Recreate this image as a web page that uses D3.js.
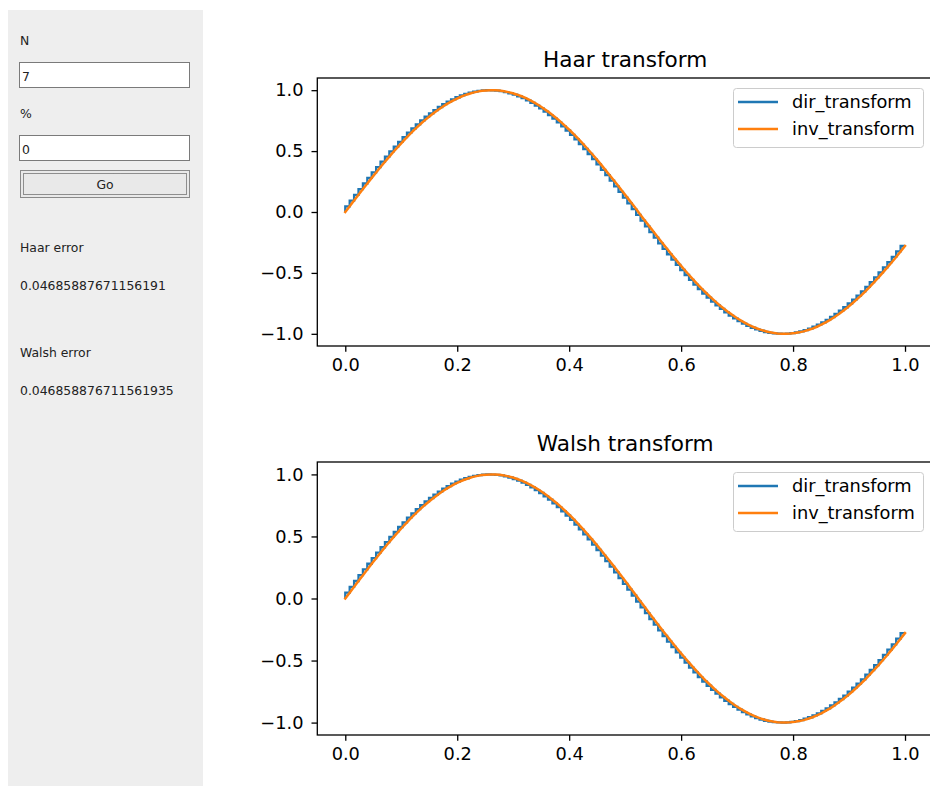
<!DOCTYPE html>
<html>
<head>
<meta charset="utf-8">
<script src="https://cdnjs.cloudflare.com/ajax/libs/d3/7.8.5/d3.min.js"></script>
<style>
  body { margin: 0; background: #fff; }
  svg { display: block; }
</style>
</head>
<body>
<div id="chart"></div>
<script>
// samples of the signal, 128 points on [0, 1]
var sampleValues = [
  0.000, 0.047, 0.094, 0.141, 0.188, 0.234, 0.280, 0.325, 0.369, 0.413, 0.455, 0.497, 0.537, 0.576, 0.614, 0.651,
  0.686, 0.720, 0.752, 0.782, 0.810, 0.837, 0.862, 0.885, 0.906, 0.925, 0.942, 0.957, 0.969, 0.980, 0.988, 0.995,
  0.998, 1.000, 0.999, 0.997, 0.992, 0.984, 0.975, 0.963, 0.950, 0.934, 0.916, 0.896, 0.874, 0.850, 0.824, 0.796,
  0.767, 0.736, 0.703, 0.669, 0.633, 0.596, 0.557, 0.517, 0.476, 0.434, 0.391, 0.346, 0.302, 0.257, 0.211, 0.165,
  0.118, 0.071, 0.024, -0.024, -0.071, -0.118, -0.165, -0.211, -0.257, -0.302, -0.347, -0.391, -0.434, -0.476, -0.517, -0.557,
  -0.596, -0.633, -0.669, -0.703, -0.736, -0.767, -0.796, -0.824, -0.850, -0.874, -0.896, -0.916, -0.934, -0.950, -0.964, -0.975,
  -0.985, -0.992, -0.997, -0.999, -1.000, -0.998, -0.994, -0.988, -0.980, -0.969, -0.957, -0.942, -0.925, -0.906, -0.885, -0.862,
  -0.837, -0.810, -0.782, -0.751, -0.719, -0.686, -0.651, -0.614, -0.576, -0.537, -0.496, -0.455, -0.412, -0.369, -0.324, -0.279
];
var seriesNames = ["dir_transform", "inv_transform"];
var seriesColors = ["#1f77b4", "#ff7f0e"];
var plotTitles = ["Haar transform", "Walsh transform"];
var xTicks = [0, 0.2, 0.4, 0.6, 0.8, 1.0];
var yTicks = [-1.0, -0.5, 0.0, 0.5, 1.0];

// left form panel
var fieldLabels = ["N", "%"];
var fieldValues = ["7", "0"];
var buttonLabel = "Go";
var errorLabels = ["Haar error", "Walsh error"];
var errorValues = ["0.04685887671156191", "0.046858876711561935"];

var width = 930, height = 786;
var xData = sampleValues.map(function(d, i) { return i / (sampleValues.length - 1); });
var points = sampleValues.map(function(d, i) { return [xData[i], d]; });

var svg = d3.select("#chart").append("svg")
    .attr("width", width)
    .attr("height", height);

// ---- panel ----
var panel = svg.append("g").attr("font-family", "DejaVu Sans").attr("font-size", "12.4px").attr("fill", "#222");
panel.append("rect").attr("x", 8).attr("y", 10).attr("width", 195).attr("height", height - 10).attr("fill", "#eeeeee");

var fieldTop = [62, 135];
fieldLabels.forEach(function(lbl, i) {
  panel.append("text").attr("x", 20).attr("y", fieldTop[i] - 17).text(lbl);
  panel.append("rect")
      .attr("x", 19.5).attr("y", fieldTop[i] + 0.5)
      .attr("width", 170).attr("height", 25)
      .attr("fill", "#fff").attr("stroke", "#7a7a7a");
  panel.append("text").attr("x", 22).attr("y", fieldTop[i] + 19).text(fieldValues[i]);
});

panel.append("rect").attr("x", 20.5).attr("y", 170.5).attr("width", 169).attr("height", 27)
    .attr("fill", "#e9e9e9").attr("stroke", "#8a8a8a");
panel.append("rect").attr("x", 23.5).attr("y", 173.5).attr("width", 163).attr("height", 21)
    .attr("fill", "none").attr("stroke", "#333").attr("stroke-dasharray", "1,1");
panel.append("text").attr("x", 105).attr("y", 189).attr("text-anchor", "middle").text(buttonLabel);

var errTop = [252, 357];
errorLabels.forEach(function(lbl, i) {
  panel.append("text").attr("x", 20).attr("y", errTop[i]).text(lbl);
  panel.append("text").attr("x", 20).attr("y", errTop[i] + 38).text(errorValues[i]);
});

// ---- plots ----
var plotBoxes = [{top: 78, bottom: 346}, {top: 462, bottom: 735}];
var axLeft = 317.3, axRight = 933;
var fontMain = "DejaVu Sans";

plotBoxes.forEach(function(box, p) {
  var g = svg.append("g");
  var x = d3.scaleLinear().domain([-0.05, 1.05]).range([axLeft, axRight]);
  var y = d3.scaleLinear().domain([-1.1, 1.1]).range([box.bottom, box.top]);

  var lineInv = d3.line().x(function(d) { return x(d[0]); }).y(function(d) { return y(d[1]); });
  var lineDir = d3.line().curve(d3.curveStepBefore)
      .x(function(d) { return x(d[0]); }).y(function(d) { return y(d[1]); });

  g.append("path").datum(points).attr("d", lineDir)
      .attr("fill", "none").attr("stroke", seriesColors[0]).attr("stroke-width", 2.3);
  g.append("path").datum(points).attr("d", lineInv)
      .attr("fill", "none").attr("stroke", seriesColors[1]).attr("stroke-width", 2.5)
      .attr("stroke-linecap", "square");

  var xa = g.append("g").attr("transform", "translate(0," + box.bottom + ")")
      .call(d3.axisBottom(x).tickValues(xTicks).tickFormat(d3.format(".1f"))
        .tickSize(5.8).tickPadding(6.5).tickSizeOuter(0));
  var ya = g.append("g").attr("transform", "translate(" + axLeft + ",0)")
      .call(d3.axisLeft(y).tickValues(yTicks).tickFormat(d3.format(".1f"))
        .tickSize(5.8).tickPadding(8).tickSizeOuter(0));
  [xa, ya].forEach(function(a) {
    a.select(".domain").remove();
    a.selectAll("line").attr("stroke", "#000").attr("stroke-width", 1.3);
    a.selectAll("text").attr("fill", "#000").attr("font-family", fontMain).attr("font-size", "17.8px");
  });

  // spines
  g.append("rect").attr("x", axLeft).attr("y", box.top)
      .attr("width", axRight - axLeft).attr("height", box.bottom - box.top)
      .attr("fill", "none").attr("stroke", "#000").attr("stroke-width", 1.3);

  g.append("text").attr("x", (axLeft + axRight) / 2).attr("y", box.top - 11)
      .attr("text-anchor", "middle").attr("font-family", fontMain).attr("font-size", "21.6px")
      .attr("fill", "#000").text(plotTitles[p]);

  // legend
  var lg = g.append("g").attr("transform", "translate(733," + (box.top + 10) + ")");
  lg.append("rect").attr("x", 0.5).attr("y", 0.5).attr("width", 190).attr("height", 59).attr("rx", 3)
      .attr("fill", "#fff").attr("fill-opacity", 0.8).attr("stroke", "#cccccc");
  seriesNames.forEach(function(name, i) {
    var ly = 14 + i * 27;
    lg.append("line").attr("x1", 5).attr("x2", 45).attr("y1", ly).attr("y2", ly)
        .attr("stroke", seriesColors[i]).attr("stroke-width", 2.5);
    lg.append("text").attr("x", 59).attr("y", ly).attr("dy", "0.35em")
        .attr("font-family", fontMain).attr("font-size", "17.8px").attr("fill", "#000").text(name);
  });
});
</script>
</body>
</html>
